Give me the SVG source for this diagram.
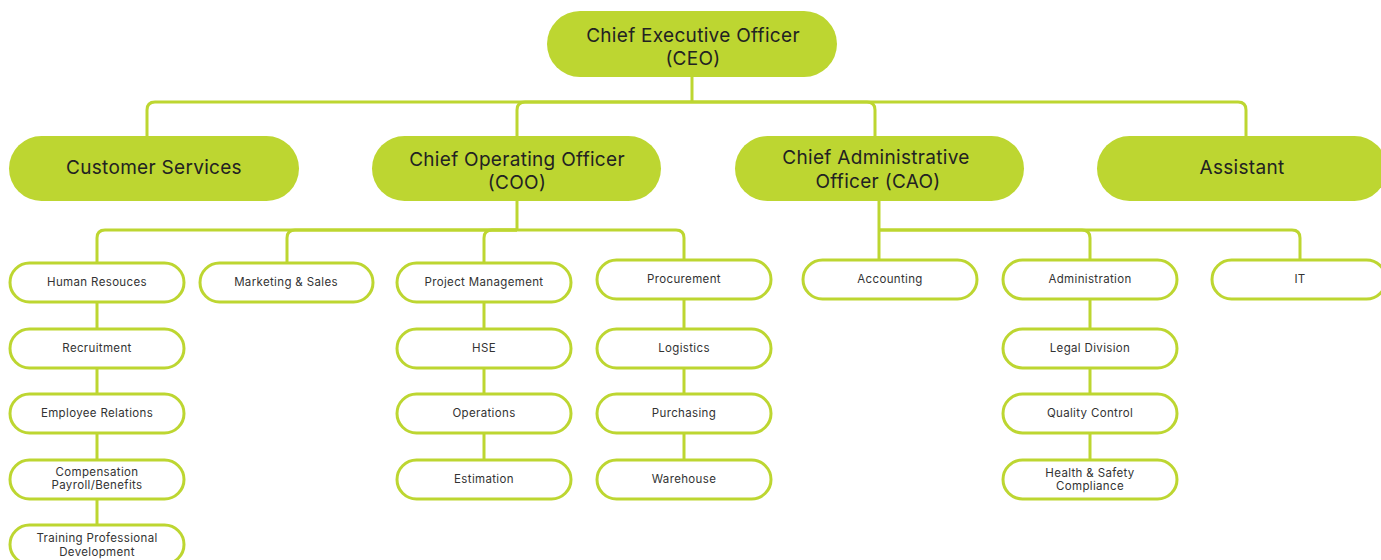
<svg xmlns="http://www.w3.org/2000/svg" width="1381" height="560" viewBox="0 0 1381 560">
<style>
.big{fill:#BDD631;}
.small{fill:#ffffff;stroke:#BDD631;stroke-width:3;}
.conn path{fill:none;stroke:#BDD631;stroke-width:3;}
.t1{font-family:Inter,"Noto Sans",sans-serif;font-size:19px;fill:#222;text-anchor:middle;letter-spacing:0.3px;}
.t2{font-family:Inter,"Noto Sans",sans-serif;font-size:11.5px;fill:#333;text-anchor:middle;letter-spacing:0.35px;}
</style>
<rect width="1381" height="560" fill="#ffffff"/>
<g class="conn">
<path d="M692,77 V102"/>
<path d="M692,102 H155 Q147,102 147,110 V136"/>
<path d="M692,102 H525 Q517,102 517,110 V136"/>
<path d="M692,102 H867 Q875,102 875,110 V136"/>
<path d="M692,102 H1238 Q1246,102 1246,110 V136"/>
<path d="M517,201 V230"/>
<path d="M517,230 H105 Q97,230 97,238 V262"/>
<path d="M517,230 H295 Q287,230 287,238 V262"/>
<path d="M517,230 H492 Q484,230 484,238 V262"/>
<path d="M517,230 H676 Q684,230 684,238 V259"/>
<path d="M879,201 V259"/>
<path d="M879,230 H1082 Q1090,230 1090,238 V259"/>
<path d="M879,230 H1292 Q1300,230 1300,238 V259"/>
<path d="M97,302 V328 M97,368 V393 M97,433 V459 M97,499 V524"/>
<path d="M484,302 V328 M484,368 V393 M484,433 V459"/>
<path d="M684,299 V328 M684,368 V393 M684,433 V459"/>
<path d="M1090,299 V328 M1090,368 V393 M1090,433 V459"/>
</g>
<g id="ceo"><rect class="big" x="547" y="11" width="290" height="66" rx="33"/><text class="t1" x="693" y="42">Chief Executive Officer</text><text class="t1" x="693" y="65">(CEO)</text></g>
<g id="cs"><rect class="big" x="9" y="136" width="290" height="65" rx="32.5"/><text class="t1" x="154" y="174">Customer Services</text></g>
<g id="coo"><rect class="big" x="372" y="136" width="289" height="65" rx="32.5"/><text class="t1" x="517" y="166">Chief Operating Officer</text><text class="t1" x="517" y="189">(COO)</text></g>
<g id="cao"><rect class="big" x="735" y="136" width="289" height="65" rx="32.5"/><text class="t1" x="876" y="164">Chief Administrative</text><text class="t1" x="878" y="188">Officer (CAO)</text></g>
<g id="assistant"><rect class="big" x="1097" y="136" width="290" height="65" rx="32.5"/><text class="t1" x="1242" y="174">Assistant</text></g>

<g id="hr"><rect class="small" x="10" y="263" width="174" height="39" rx="19.5"/><text class="t2" x="97" y="286">Human Resouces</text></g>
<g id="recruit"><rect class="small" x="10" y="329" width="174" height="39" rx="19.5"/><text class="t2" x="97" y="352">Recruitment</text></g>
<g id="emprel"><rect class="small" x="10" y="394" width="174" height="39" rx="19.5"/><text class="t2" x="97" y="417">Employee Relations</text></g>
<g id="comp"><rect class="small" x="10" y="460" width="174" height="39" rx="19.5"/><text class="t2" x="97" y="476">Compensation</text><text class="t2" x="97" y="489">Payroll/Benefits</text></g>
<g id="training"><rect class="small" x="10" y="525" width="174" height="39" rx="19.5"/><text class="t2" x="97" y="542">Training Professional</text><text class="t2" x="97" y="556">Development</text></g>

<g id="marketing"><rect class="small" x="200" y="263" width="173" height="39" rx="19.5"/><text class="t2" x="286" y="286">Marketing &amp; Sales</text></g>

<g id="pm"><rect class="small" x="397" y="263" width="174" height="39" rx="19.5"/><text class="t2" x="484" y="286">Project Management</text></g>
<g id="hse"><rect class="small" x="397" y="329" width="174" height="39" rx="19.5"/><text class="t2" x="484" y="352">HSE</text></g>
<g id="ops"><rect class="small" x="397" y="394" width="174" height="39" rx="19.5"/><text class="t2" x="484" y="417">Operations</text></g>
<g id="est"><rect class="small" x="397" y="460" width="174" height="39" rx="19.5"/><text class="t2" x="484" y="483">Estimation</text></g>

<g id="proc"><rect class="small" x="597" y="260" width="174" height="39" rx="19.5"/><text class="t2" x="684" y="283">Procurement</text></g>
<g id="log"><rect class="small" x="597" y="329" width="174" height="39" rx="19.5"/><text class="t2" x="684" y="352">Logistics</text></g>
<g id="purch"><rect class="small" x="597" y="394" width="174" height="39" rx="19.5"/><text class="t2" x="684" y="417">Purchasing</text></g>
<g id="ware"><rect class="small" x="597" y="460" width="174" height="39" rx="19.5"/><text class="t2" x="684" y="483">Warehouse</text></g>

<g id="acct"><rect class="small" x="803" y="260" width="174" height="39" rx="19.5"/><text class="t2" x="890" y="283">Accounting</text></g>
<g id="admin"><rect class="small" x="1003" y="260" width="174" height="39" rx="19.5"/><text class="t2" x="1090" y="283">Administration</text></g>
<g id="legal"><rect class="small" x="1003" y="329" width="174" height="39" rx="19.5"/><text class="t2" x="1090" y="352">Legal Division</text></g>
<g id="qc"><rect class="small" x="1003" y="394" width="174" height="39" rx="19.5"/><text class="t2" x="1090" y="417">Quality Control</text></g>
<g id="hs"><rect class="small" x="1003" y="460" width="174" height="39" rx="19.5"/><text class="t2" x="1090" y="477">Health &amp; Safety</text><text class="t2" x="1090" y="490">Compliance</text></g>
<g id="it"><rect class="small" x="1212" y="260" width="174" height="39" rx="19.5"/><text class="t2" x="1300" y="283">IT</text></g>
</svg>
